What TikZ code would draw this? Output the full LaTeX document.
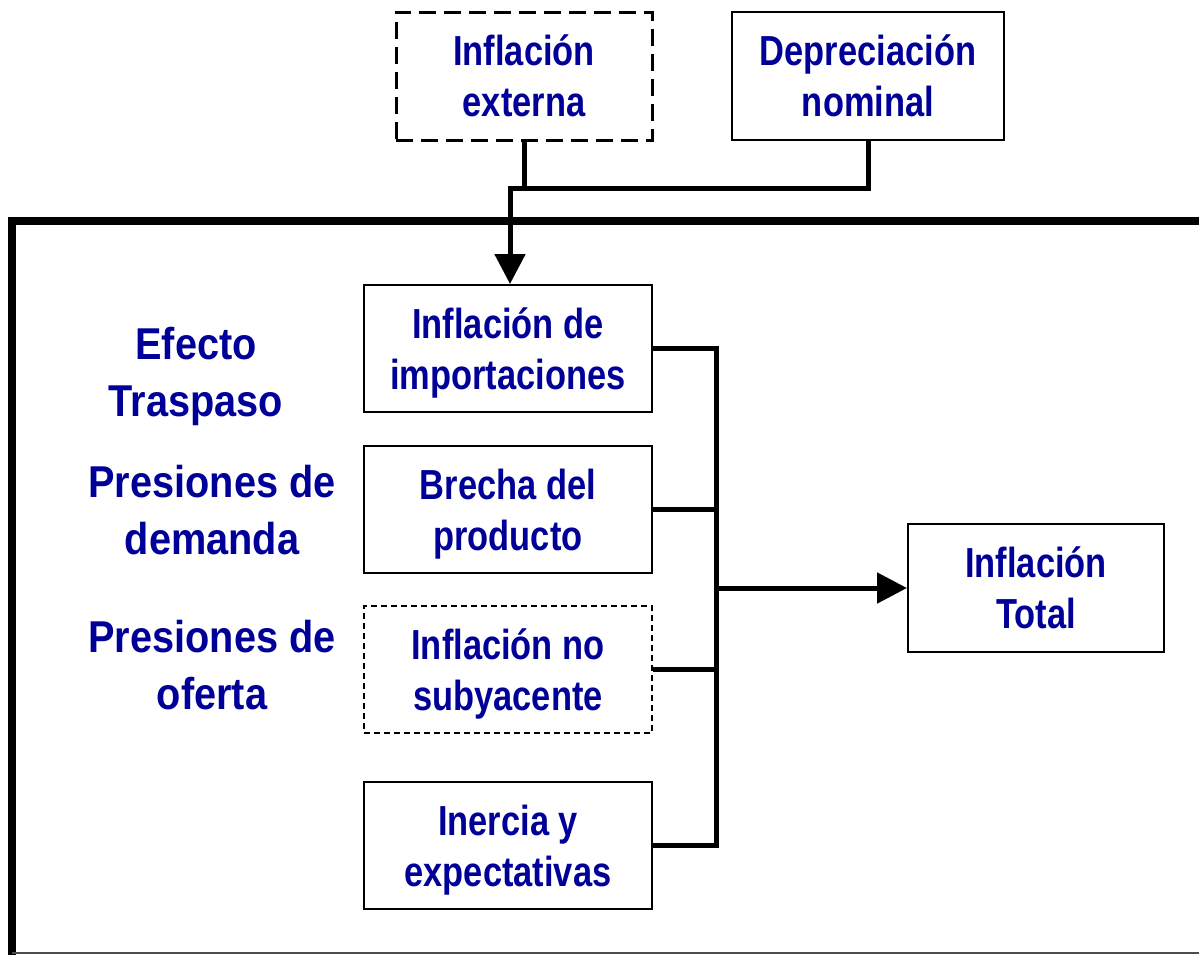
\documentclass[tikz,border=0pt]{standalone}
\usepackage{fontspec}
\setmainfont{Liberation Sans}[FakeStretch=0.86]
\newfontfamily\boxfont{Liberation Sans}[FakeStretch=0.82]
\newfontfamily\lblfont{Liberation Sans}[FakeStretch=0.89]
\usetikzlibrary{arrows.meta}
\definecolor{txtblue}{RGB}{0,0,153}
\begin{document}
\begin{tikzpicture}[x=0.5pt, y=-0.5pt,
        box/.style={draw, line width=1pt, minimum width=144pt, minimum height=63.5pt, align=center,
            text depth=0pt, text=txtblue, font=\boxfont\fontsize{21}{25.5}\selectfont\bfseries},
        lbl/.style={align=center, text=txtblue, font=\lblfont\fontsize{22.3}{28.5}\selectfont\bfseries},
        conn/.style={line width=2.5pt, line join=miter},
        tip/.style={-{Triangle[length=15pt,width=15pt]}}]
    \useasboundingbox (0,0) rectangle (1199,955);
    % frame
    \draw[line width=4pt] (1199,221) -| (12,955);
    \draw[line width=0.8pt, black!70] (12,953) -- (1199,953);
    % top inputs
    \node[box, minimum width=128pt, minimum height=64pt, line width=1.5pt, dash pattern=on 8.5pt off 4pt] (ext) at (524,76) {Inflación\\externa};
    \node[box, minimum width=136pt, minimum height=64pt] (dep) at (868,76) {Depreciación\\nominal};
    % inner boxes
    \node[box] (imp) at (508,348.5) {Inflación de\\importaciones};
    \node[box] (bre) at (508,509.5) {Brecha del\\producto};
    \node[box, line width=0.6pt, dash pattern=on 3pt off 2pt] (nos) at (508,669.5) {Inflación no\\subyacente};
    \node[box] (ine) at (508,845.5) {Inercia y\\expectativas};
    \node[box, minimum width=128pt, minimum height=64pt] (tot) at (1036,588) {Inflación\\Total};
    % labels
    \node[lbl] (efe) at (196,376) {Efecto\\Traspaso};
    \node[lbl] (dem) at (212,510) {Presiones de\\demanda};
    \node[lbl] (ofe) at (212,665) {Presiones de\\oferta};
    % connectors
    \coordinate (split) at (510,188);
    \coordinate (bus) at (716,588);
    \draw[conn] (ext.south) -- (ext.south |- split);
    \draw[conn, tip] (dep.south) |- (split) -- (split |- imp.north);
    \draw[conn] (imp.east) -| (bus) -- (bus |- ine.east) -- (ine.east);
    \draw[conn] (bre.east) -- (bre.east -| bus);
    \draw[conn] (nos.east) -- (nos.east -| bus);
    \draw[conn, tip] (bus) -- (tot.west);
\end{tikzpicture}
\end{document}
